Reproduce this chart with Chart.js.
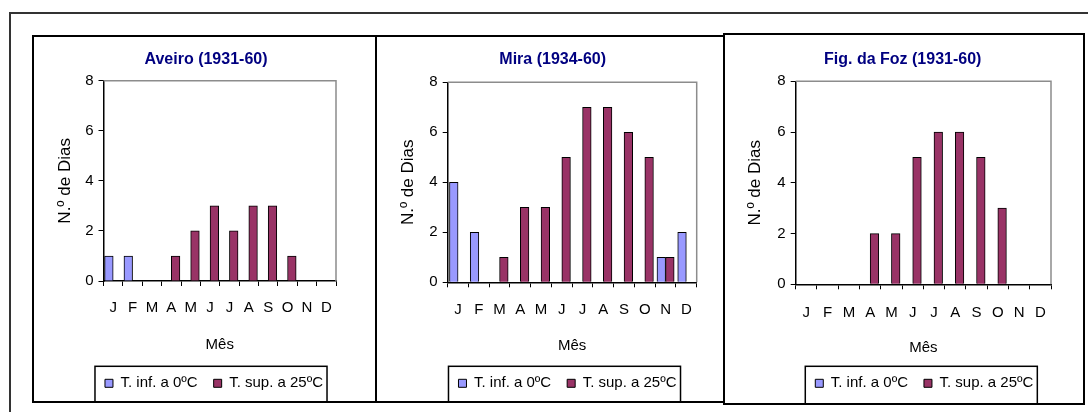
<!DOCTYPE html>
<html>
<head>
<meta charset="utf-8">
<script src="https://cdn.jsdelivr.net/npm/chart.js@4.4.1/dist/chart.umd.min.js"></script>
<style>
  body { margin: 0; width: 1088px; height: 412px; overflow: hidden; position: relative; background: #fff; }
  #frame { position: absolute; left: 9px; top: 12px; width: 1200px; height: 500px; border: 2px solid #333; }
  .panel { position: absolute; box-sizing: border-box; border: 2px solid #000; background: #fff; }
  .panel canvas { position: absolute; left: 0; top: 0; }
</style>
</head>
<body>
<div id="frame"></div>
<div class="panel" style="left:32px;top:35px;width:345px;height:368px"><canvas id="c1" width="341" height="364"></canvas></div>
<div class="panel" style="left:375px;top:35px;width:350px;height:368px"><canvas id="c2" width="346" height="364"></canvas></div>
<div class="panel" style="left:723px;top:33px;width:362px;height:372px"><canvas id="c3" width="358" height="368"></canvas></div>

<script>
// months and series
const months = ["J", "F", "M", "A", "M", "J", "J", "A", "S", "O", "N", "D"];
const seriesNames = ["T. inf. a 0ºC", "T. sup. a 25ºC"];
const yTicks = [0, 2, 4, 6, 8];

// number of days per month
const aveiroInf = [1, 1, 0, 0, 0, 0, 0, 0, 0, 0, 0, 0];
const aveiroSup = [0, 0, 0, 1, 2, 3, 2, 3, 3, 1, 0, 0];
const miraInf = [4, 2, 0, 0, 0, 0, 0, 0, 0, 0, 1, 2];
const miraSup = [0, 0, 1, 3, 3, 5, 7, 7, 6, 5, 1, 0];
const fozInf = [0, 0, 0, 0, 0, 0, 0, 0, 0, 0, 0, 0];
const fozSup = [0, 0, 0, 2, 2, 5, 6, 6, 5, 3, 0, 0];

const FONT = "'Liberation Sans', Arial, sans-serif";
const TICK_SIZE = 15, TITLE_SIZE = 16, YTITLE_SIZE = 17, LEGEND_SIZE = 15;
const LEGEND_PAD = 16;
const LEGEND_H = LEGEND_SIZE + LEGEND_PAD + 10;

// where things sit inside each canvas (canvas pixels)
const panels = [
  { id: "c1", title: "Aveiro (1931-60)", inf: aveiroInf, sup: aveiroSup,
    area: { l: 69.5, t: 43.7, r: 302, b: 244 }, titleX: 172, titleY: 23,
    tickY: 271, mesY: 308, yTitleX: 31, legendX: 180, legendY: 346.3 },
  { id: "c2", title: "Mira (1934-60)", inf: miraInf, sup: miraSup,
    area: { l: 70.7, t: 45.3, r: 319.7, b: 245.3 }, titleX: 175.7, titleY: 23,
    tickY: 273, mesY: 309, yTitleX: 31, legendX: 190.5, legendY: 346.3 },
  { id: "c3", title: "Fig. da Foz (1931-60)", inf: fozInf, sup: fozSup,
    area: { l: 70.7, t: 46.3, r: 326, b: 249.3 }, titleX: 177.7, titleY: 24.3,
    tickY: 278.3, mesY: 313.3, yTitleX: 30, legendX: 199.3, legendY: 348.3 }
];

const panelLayout = {
  id: "panelLayout",
  afterLayout(chart, args, opts) {
    const t = chart.titleBlock;
    if (t) {
      const dx = opts.titleX - (t.left + t.right) / 2;
      t.left += dx; t.right += dx;
    }
    const lg = chart.legend;
    if (lg) {
      const dx = opts.legendX - (lg.left + lg.right) / 2;
      const dy = opts.legendY - (lg.top + LEGEND_PAD + LEGEND_SIZE / 2);
      lg.left += dx; lg.right += dx;
      lg.top += dy; lg.bottom += dy;
    }
  },
  afterDraw(chart, args, opts) {
    const { ctx, chartArea: a } = chart;
    ctx.save();
    // grey plot frame on top and right
    ctx.strokeStyle = "#8c8c8c";
    ctx.lineWidth = 1.5;
    ctx.beginPath();
    ctx.moveTo(a.left, a.top);
    ctx.lineTo(a.right, a.top);
    ctx.lineTo(a.right, a.bottom);
    ctx.stroke();
    // legend box
    const hb = chart.legend.legendHitBoxes;
    if (hb && hb.length) {
      const last = hb[hb.length - 1];
      const x1 = hb[0].left - 10;
      const x2 = last.left + last.width + 4;
      const y1 = opts.legendY - 17;
      ctx.strokeStyle = "#000";
      ctx.lineWidth = 1.5;
      ctx.strokeRect(x1, y1, x2 - x1, chart.height + 4 - y1);
    }
    ctx.restore();
  }
};

panels.forEach(p => {
  const canvas = document.getElementById(p.id);
  const W = canvas.width, H = canvas.height, a = p.area;
  const titleLH = TITLE_SIZE * 1.2;
  new Chart(canvas, {
    type: "bar",
    data: {
      labels: months,
      datasets: [
        { label: seriesNames[0], data: p.inf, backgroundColor: "#9999FF", borderColor: "#000", borderWidth: 1, barThickness: 8.6 },
        { label: seriesNames[1], data: p.sup, backgroundColor: "#993366", borderColor: "#000", borderWidth: 1, barThickness: 8.6 }
      ]
    },
    plugins: [panelLayout],
    options: {
      responsive: false,
      animation: false,
      layout: { padding: { left: 0, top: 0, bottom: 0, right: W - a.r } },
      plugins: {
        panelLayout: { titleX: p.titleX, legendX: p.legendX, legendY: p.legendY },
        title: {
          display: true,
          text: p.title,
          color: "#000080",
          font: { family: FONT, size: TITLE_SIZE, weight: "bold", lineHeight: 1.2 },
          padding: { top: p.titleY - titleLH / 2, bottom: a.t - titleLH - (p.titleY - titleLH / 2) }
        },
        legend: {
          position: "bottom",
          labels: { boxWidth: 8, boxHeight: 8, padding: LEGEND_PAD, color: "#000", font: { family: FONT, size: LEGEND_SIZE } }
        },
        tooltip: { enabled: false }
      },
      scales: {
        x: {
          grid: { offset: true, drawOnChartArea: false, drawTicks: true, tickLength: 5, color: "#000" },
          border: { color: "#000", width: 1.5 },
          ticks: { color: "#000", font: { family: FONT, size: TICK_SIZE }, padding: p.tickY - a.b - 5 - TICK_SIZE * 0.6, maxRotation: 0, autoSkip: false },
          title: {
            display: true, text: "Mês", color: "#000",
            font: { family: FONT, size: TICK_SIZE },
            padding: { top: 0, bottom: (H - LEGEND_H) - p.mesY - TICK_SIZE * 0.6 }
          },
          afterFit: s => { s.height = H - LEGEND_H - a.b; }
        },
        y: {
          min: yTicks[0],
          max: yTicks[yTicks.length - 1],
          grid: { drawOnChartArea: false, tickLength: 5, color: "#000" },
          border: { color: "#000", width: 1.5 },
          ticks: { stepSize: yTicks[1] - yTicks[0], color: "#000", font: { family: FONT, size: TICK_SIZE }, padding: 5 },
          title: {
            display: true, text: "N.º de Dias", color: "#000",
            font: { family: FONT, size: YTITLE_SIZE },
            padding: { top: p.yTitleX - YTITLE_SIZE * 0.6, bottom: 0 }
          },
          afterFit: s => { s.width = a.l; }
        }
      }
    }
  });
});
</script>
</body>
</html>
